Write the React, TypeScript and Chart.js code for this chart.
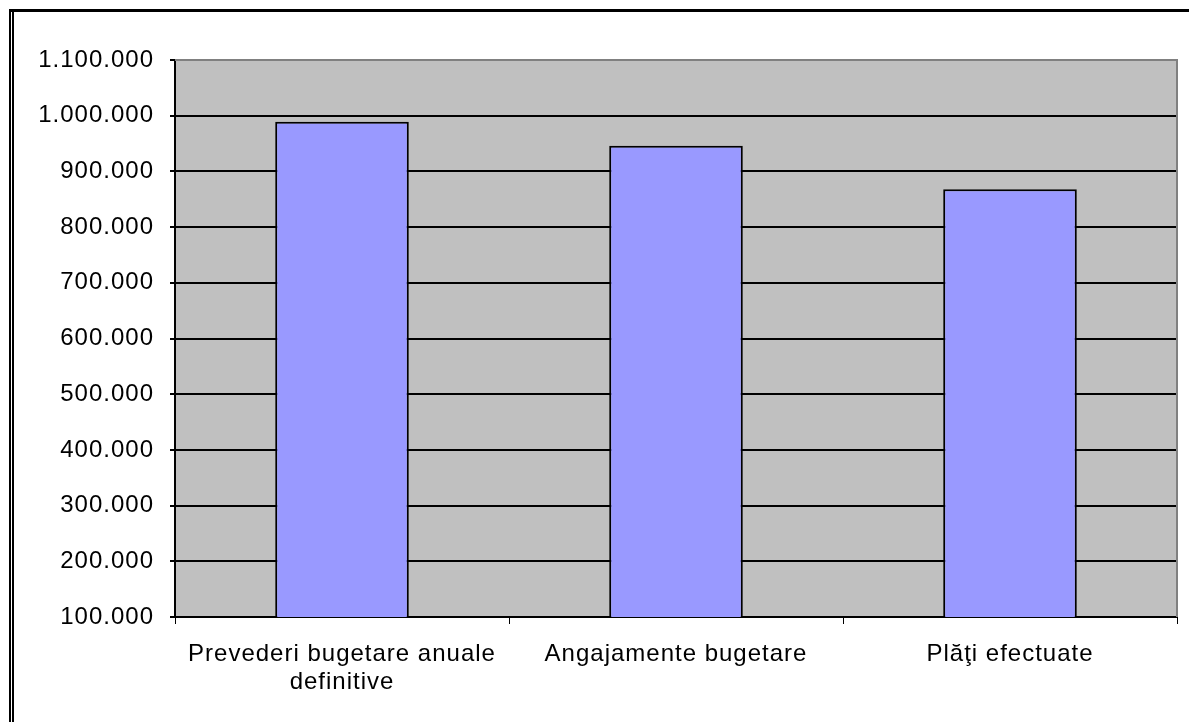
import React, { useEffect, useRef } from "react";
import { Chart, registerables } from "chart.js";

Chart.register(...registerables);

const categories: (string | string[])[] = [
  ["Prevederi bugetare anuale", "definitive"],
  "Angajamente bugetare",
  "Plăţi efectuate",
];
const values: number[] = [989000, 946000, 868000];
const yMin = 100000;
const yMax = 1100000;
const yStep = 100000;

const FONT = "'Liberation Sans', Arial, sans-serif";

const fmt = (v: number) =>
  Math.round(v).toString().replace(/\B(?=(\d{3})+(?!\d))/g, ".");

const framePlugin = {
  id: "frame",
  beforeDraw(chart: any) {
    const { ctx, chartArea } = chart;
    ctx.save();
    ctx.fillStyle = "#ffffff";
    ctx.fillRect(0, 0, chart.width, chart.height);
    ctx.fillStyle = "#C0C0C0";
    ctx.fillRect(
      chartArea.left,
      chartArea.top,
      chartArea.right - chartArea.left,
      chartArea.bottom - chartArea.top
    );
    ctx.restore();
    (ctx as any).letterSpacing = "1px";
  },
  beforeDatasetsDraw(chart: any) {
    const { ctx, chartArea } = chart;
    ctx.save();
    ctx.fillStyle = "#808080";
    ctx.fillRect(chartArea.left, chartArea.top - 1, chartArea.right - chartArea.left, 2);
    ctx.fillRect(chartArea.right - 1, chartArea.top - 1, 2, chartArea.bottom - chartArea.top + 1);
    ctx.restore();
  },
  afterDraw(chart: any) {
    const { ctx } = chart;
    ctx.save();
    ctx.fillStyle = "#000000";
    ctx.fillRect(9, 9, chart.width, 3);
    ctx.fillRect(9, 9, 2, chart.height);
    ctx.fillRect(12, 12, 2, chart.height);
    ctx.restore();
  },
};

export default function App() {
  const ref = useRef<HTMLCanvasElement | null>(null);

  useEffect(() => {
    if (!ref.current) return;
    const chart = new Chart(ref.current, {
      type: "bar",
      data: {
        labels: categories as any,
        datasets: [
          {
            data: values,
            backgroundColor: "#9999FF",
            borderColor: "#000000",
            borderWidth: 2,
            borderSkipped: false,
            barPercentage: 0.4,
            categoryPercentage: 1,
          },
        ],
      },
      options: {
        responsive: false,
        animation: false,
        devicePixelRatio: 1,
        layout: { padding: { top: 60, right: 12, bottom: 0, left: 0 } },
        plugins: {
          legend: { display: false },
          tooltip: { enabled: false },
        },
        scales: {
          x: {
            afterFit: (s: any) => {
              s.height = 105;
            },
            grid: {
              offset: true,
              drawOnChartArea: false,
              drawTicks: true,
              tickLength: 7,
              color: "#000000",
              lineWidth: 1,
            },
            border: { display: true, color: "#000000", width: 2 },
            ticks: {
              color: "#000000",
              padding: 16,
              maxRotation: 0,
              autoSkip: false,
              font: { family: FONT, size: 24, lineHeight: "28px" },
            },
          },
          y: {
            min: yMin,
            max: yMax,
            afterFit: (s: any) => {
              s.width = 175;
            },
            grid: {
              color: (c: any) => (c.tick && c.tick.value === yMax ? "#808080" : "#000000"),
              tickColor: "#000000",
              lineWidth: 2,
              tickLength: 5,
              drawTicks: true,
            },
            border: { display: true, color: "#000000", width: 2 },
            ticks: {
              stepSize: yStep,
              color: "#000000",
              padding: 16,
              font: { family: FONT, size: 24 },
              callback: (v: any) => fmt(Number(v)),
            },
          },
        },
      },
      plugins: [framePlugin],
    });
    return () => chart.destroy();
  }, []);

  return (
    <div style={{ position: "absolute", left: 0, top: 0, width: 1189, height: 722, background: "#fff" }}>
      <canvas ref={ref} width={1189} height={722} style={{ display: "block", width: 1189, height: 722 }} />
    </div>
  );
}
